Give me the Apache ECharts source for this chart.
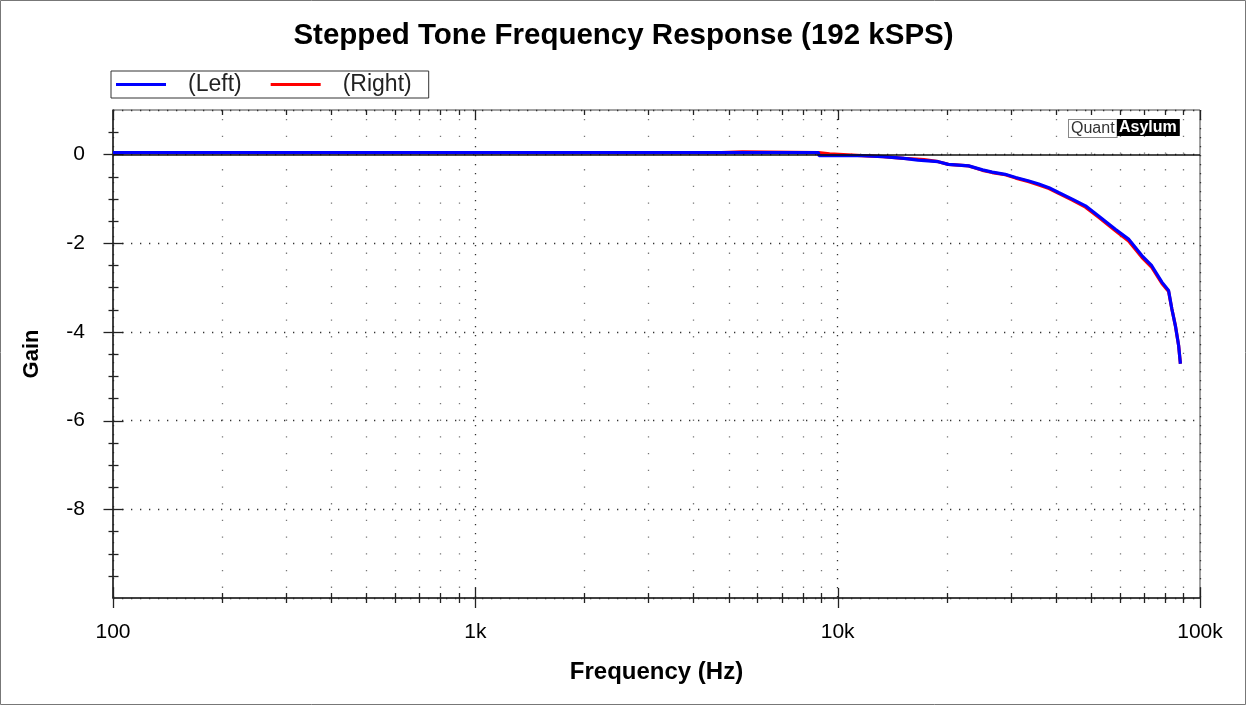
<!DOCTYPE html>
<html>
<head>
<meta charset="utf-8">
<script src="https://cdn.jsdelivr.net/npm/echarts@6/dist/echarts.min.js"></script>
<style>
html,body{margin:0;padding:0;background:#fff;}
#chart{width:1247px;height:706px;}
</style>
</head>
<body>
<div id="chart"></div>
<script>
// ---- data ----
const leftFreq = [100, 8850, 8880, 11650, 11700, 13350, 13400, 15250, 15300, 16650, 16700, 18950, 19000,
  20200, 23000, 25100, 26700, 29000, 31000, 33700, 35900, 38300, 40700, 44400, 48300, 52500, 58400,
  63500, 69100, 73600, 78500, 81900, 83600, 85500, 87300, 88300];
const leftGain = [0.04, 0.04, -0.03, -0.03, -0.05, -0.05, -0.09, -0.09, -0.13, -0.13, -0.165, -0.165, -0.195,
  -0.225, -0.26, -0.35, -0.40, -0.45, -0.52, -0.60, -0.67, -0.75, -0.86, -1.01, -1.16, -1.39, -1.69,
  -1.91, -2.28, -2.51, -2.88, -3.07, -3.48, -3.86, -4.31, -4.72];

const rightFreq = [100, 4770, 4770, 5450, 5450, 8850, 8880, 9500, 9500, 11650, 11700, 13350, 13400, 15250,
  15300, 17300, 17300, 18950, 19000, 20200, 23000, 25100, 26700, 29000, 31000, 33700, 35900, 38300,
  40700, 44400, 48300, 52500, 58400, 63500, 69100, 73600, 78500, 81900, 83600, 85500, 87300, 88300];
const rightGain = [0.04, 0.04, 0.055, 0.055, 0.04, 0.04, 0.01, 0.01, -0.03, -0.03, -0.05, -0.05, -0.09, -0.09,
  -0.12, -0.12, -0.165, -0.165, -0.195, -0.225, -0.26, -0.36, -0.41, -0.46, -0.535, -0.615, -0.69, -0.77,
  -0.88, -1.03, -1.19, -1.42, -1.72, -1.95, -2.32, -2.55, -2.91, -3.09, -3.48, -3.86, -4.31, -4.72];

const seriesNames = ['(Left)', '(Right)'];
const xMajorTicks = [100, 1000, 10000, 100000];
const xTickLabels = {100: '100', 1000: '1k', 10000: '10k', 100000: '100k'};
const xMinorTicks = [200, 300, 400, 500, 600, 700, 800, 900,
  2000, 3000, 4000, 5000, 6000, 7000, 8000, 9000,
  20000, 30000, 40000, 50000, 60000, 70000, 80000, 90000];
const yMajorTicks = [0, -2, -4, -6, -8];
const yMinorTicks = [0.5, -0.5, -1, -1.5, -2.5, -3, -3.5, -4.5, -5, -5.5, -6.5, -7, -7.5, -8.5, -9, -9.5];
const X_MIN = 100, X_MAX = 100000, Y_MIN = -10, Y_MAX = 1;

const FONT = '"Liberation Sans", Arial, sans-serif';

function pairs(xs, ys) { return xs.map((x, i) => [x, ys[i]]); }

const chart = echarts.init(document.getElementById('chart'), null, {renderer: 'canvas'});

function decorRender(params, api) {
  const children = [];
  const tickStyle = {stroke: '#222', lineWidth: 1.3};
  const topL = api.coord([X_MIN, Y_MAX]);
  const botL = api.coord([X_MIN, Y_MIN]);
  const yTop = topL[1], yBot = botL[1];
  xMinorTicks.forEach(f => {
    const x = Math.round(api.coord([f, Y_MIN])[0]) + 0.5;
    children.push({type: 'line', shape: {x1: x, y1: yTop + 9, x2: x, y2: yBot},
      style: {stroke: '#777', lineWidth: 1.3, lineDash: [1.3, 15.4]}, silent: true});
    children.push({type: 'line', shape: {x1: x, y1: yBot - 5, x2: x, y2: yBot + 5}, style: tickStyle});
    children.push({type: 'line', shape: {x1: x, y1: yTop, x2: x, y2: yTop + 5}, style: tickStyle});
  });
  xMajorTicks.forEach(f => {
    const x = Math.round(api.coord([f, Y_MIN])[0]) + 0.5;
    children.push({type: 'line', shape: {x1: x, y1: yBot - 10, x2: x, y2: yBot + 10}, style: tickStyle});
    children.push({type: 'line', shape: {x1: x, y1: yTop, x2: x, y2: yTop + 10}, style: tickStyle});
  });
  const xl = Math.round(topL[0]) + 0.5;
  yMinorTicks.forEach(v => {
    const y = Math.round(api.coord([X_MIN, v])[1]) + 0.5;
    children.push({type: 'line', shape: {x1: xl - 5, y1: y, x2: xl + 5, y2: y}, style: tickStyle});
  });
  yMajorTicks.forEach(v => {
    const y = Math.round(api.coord([X_MIN, v])[1]) + 0.5;
    children.push({type: 'line', shape: {x1: xl - 10, y1: y, x2: xl + 10, y2: y}, style: tickStyle});
  });
  return {type: 'group', children};
}

const option = {
  animation: false,
  backgroundColor: '#fff',
  textStyle: {fontFamily: FONT},
  title: {
    text: 'Stepped Tone Frequency Response (192 kSPS)',
    left: 'center', top: 16,
    textStyle: {fontFamily: FONT, fontSize: 29.5, fontWeight: 'bold', color: '#000'}
  },
  legend: {
    data: seriesNames,
    left: 111, top: 71,
    orient: 'horizontal',
    borderColor: '#333', borderWidth: 1, borderRadius: 0,
    padding: [2, 17, 2, 5],
    itemGap: 29,
    itemWidth: 50, itemHeight: 3,
    icon: 'rect',
    selectedMode: false,
    textStyle: {fontFamily: FONT, fontSize: 23, color: '#222', padding: [0, 0, 0, 17], lineHeight: 22}
  },
  grid: {
    left: 113, top: 110, right: 47, bottom: 108,
    show: true, borderColor: '#444', borderWidth: 1, backgroundColor: 'transparent',
    containLabel: false
  },
  xAxis: {
    type: 'log', logBase: 10, min: X_MIN, max: X_MAX,
    name: 'Frequency (Hz)', nameLocation: 'middle', nameGap: 62,
    nameTextStyle: {fontFamily: FONT, fontSize: 24, fontWeight: 'bold', color: '#000'},
    axisLine: {show: true, onZero: false, lineStyle: {color: '#222', width: 1.5}},
    axisTick: {show: false},
    axisLabel: {
      fontFamily: FONT, fontSize: 21, color: '#000', margin: 24,
      formatter: v => xTickLabels[Math.round(v)] || ''
    },
    splitLine: {show: true, lineStyle: {color: '#333', width: 1.3, type: [1.3, 7.7]}}
  },
  yAxis: {
    type: 'value', min: Y_MIN, max: Y_MAX, interval: 2,
    name: 'Gain', nameLocation: 'middle', nameGap: 70, nameRotate: 90,
    nameTextStyle: {fontFamily: FONT, fontSize: 22, fontWeight: 'bold', color: '#000'},
    axisLine: {show: true, lineStyle: {color: '#222', width: 1.5}},
    axisTick: {show: false},
    axisLabel: {
      fontFamily: FONT, fontSize: 21, color: '#000', margin: 28,
      formatter: v => (yMajorTicks.indexOf(v) >= 0 ? String(v) : '')
    },
    splitLine: {show: true, lineStyle: {color: '#333', width: 1.3, type: [1.3, 7.7]}}
  },
  graphic: [
    {type: 'rect', shape: {x: 0.5, y: 0.5, width: 1245, height: 704},
      style: {fill: 'none', stroke: '#777', lineWidth: 1}, silent: true, z: 100},
    {type: 'text', left: 1068, top: 119, z: 100,
      style: {text: 'Quant', fontFamily: FONT, fontSize: 16, fill: '#333',
        backgroundColor: '#fff', borderColor: '#888', borderWidth: 1, padding: [1, 2, 0, 2]}},
    {type: 'text', left: 1117, top: 119, z: 100,
      style: {text: 'Asylum', fontFamily: FONT, fontSize: 16, fontWeight: 'bold', fill: '#fff',
        backgroundColor: '#000', padding: [1, 3, 0, 2]}}
  ],
  series: [
    {
      name: seriesNames[0], type: 'line', z: 4,
      data: pairs(leftFreq, leftGain),
      showSymbol: false, symbol: 'none',
      color: '#0000ff',
      lineStyle: {color: '#0000ff', width: 3.2}
    },
    {
      name: seriesNames[1], type: 'line', z: 3,
      data: pairs(rightFreq, rightGain),
      showSymbol: false, symbol: 'none',
      color: '#ff0000',
      lineStyle: {color: '#ff0000', width: 3.2},
      markLine: {
        silent: true, symbol: 'none', label: {show: false},
        lineStyle: {color: '#111', width: 1.5, type: 'solid'},
        data: [{yAxis: 0}]
      }
    },
    {
      type: 'custom', name: 'decor', clip: false, silent: true, z: 2,
      data: [[1000, 0]],
      renderItem: decorRender
    }
  ]
};
chart.setOption(option);
</script>
</body>
</html>
